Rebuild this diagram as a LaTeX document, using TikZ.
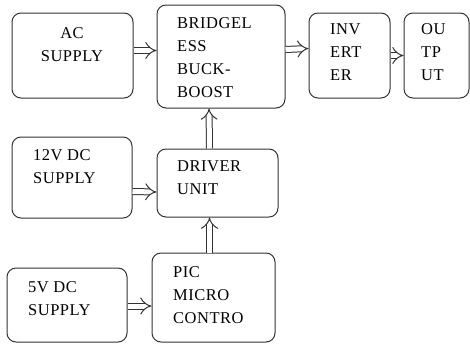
\documentclass[tikz,border=0pt]{standalone}
\usepackage{fontspec}
\setmainfont{Liberation Serif}
\usepackage{tikz}
\usetikzlibrary{arrows.meta,calc,positioning}

\begin{document}
\begin{tikzpicture}[
  x=1pt, y=-1pt,
  blk/.style={rectangle, rounded corners=9pt, draw=black!80, line width=1pt,
              fill=white, inner sep=0pt},
  txt/.style={anchor=west, align=left, inner sep=0pt,
              font=\fontsize{16.5}{23}\selectfont\addfontfeatures{LetterSpace=3}},
  arr/.style={double=white, draw=black!80, line width=1pt, double distance=5pt,
              -{Implies[length=5pt, width=12pt]}}
]
\useasboundingbox (0,0) rectangle (470,343);

%% blocks
\node[blk, minimum width=121pt, minimum height=85pt] (ac) at (72.5,55.5) {};
\node[blk, minimum width=128pt, minimum height=103pt] (bbc) at (221,56.5) {};
\node[blk, minimum width=81pt, minimum height=85pt] (inv) at (349.5,55.5) {};
\node[blk, minimum width=65pt, minimum height=85pt] (outp) at (436.5,55.5) {};
\node[blk, minimum width=120pt, minimum height=81pt] (dcA) at (72,177.5) {};
\node[blk, minimum width=121pt, minimum height=68pt] (drv) at (217.5,183) {};
\node[blk, minimum width=120pt, minimum height=74pt] (dcB) at (67,305) {};
\node[blk, minimum width=123pt, minimum height=89pt] (pic) at (213.5,297.5) {};

%% texts
\node[txt, anchor=center, align=center] (acT) at (72,45) {AC\\SUPPLY};
\node[txt] (bbcT) at (177,58) {BRIDGEL\\ESS\\BUCK-\\BOOST};
\node[txt] (invT) at (330,52) {INV\\ERT\\ER};
\node[txt] (outpT) at (421,52) {OU\\TP\\UT};
\node[txt] (dcAT) at (33,167) {12V DC\\SUPPLY};
\node[txt] (drvT) at (177,178) {DRIVER\\UNIT};
\node[txt] (dcBT) at (28,299) {5V DC\\SUPPLY};
\node[txt] (picT) at (173,295) {PIC\\MICRO\\CONTRO};

%% connectors
\draw[arr] ($(ac.east)+(0,-5)$) -- ($(bbc.west)+(0,-6)$);
\draw[arr] ($(bbc.east)+(0,-7)$) -- ($(inv.west)+(0,-7)$);
\draw[arr] (inv.east) -- (outp.west);
\draw[arr] ($(drv.north)+(-8,0)$) -- ($(bbc.south)+(-12,0)$);
\draw[arr] ($(pic.north)+(-4,0)$) -- ($(drv.south)+(-8,0)$);
\draw[arr] ($(dcA.east)+(0,14)$) -- ($(drv.west)+(0,9)$);
\draw[arr] ($(dcB.east)+(0,1)$) -- ($(pic.west)+(0,8.5)$);
\end{tikzpicture}
\end{document}
